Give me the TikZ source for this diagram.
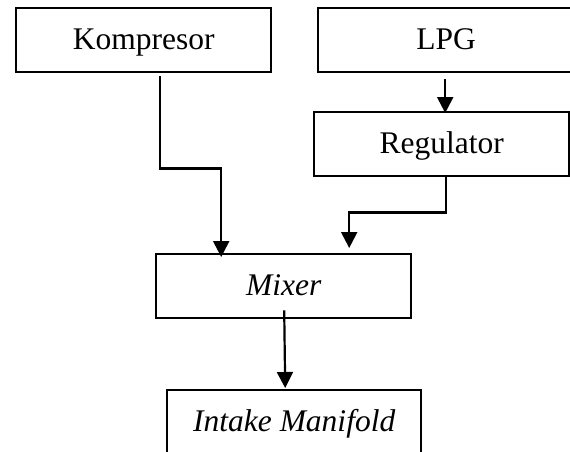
\documentclass[tikz,border=0pt]{standalone}
\usepackage{fontspec}
\setmainfont{Liberation Serif}
\usetikzlibrary{arrows.meta,calc}

\tikzset{
  blok/.style={draw, line width=2.4pt, inner sep=0pt, anchor=north west,
    minimum height=64pt, text height=20pt, text depth=2pt,
    font=\fontsize{31.5}{36}\selectfont},
  arr/.style={line width=2.2pt, -{Triangle[length=16pt,width=16pt]}}
}

\begin{document}
\begin{tikzpicture}[x=1pt, y=-1pt]
  \useasboundingbox (0,0) rectangle (570,451);
  \clip (0,0) rectangle (570,451);

  % blocks of the LPG supply path
  \node[blok, minimum width=255pt] (komp) at (15,7) {Kompresor};
  \node[blok, minimum width=256pt] (lpg) at (317,7) {LPG};
  \node[blok, minimum width=255pt] (reg) at (313,111) {Regulator};
  \node[blok, minimum width=255pt] (mix) at (155,253) {\itshape Mixer};
  \node[blok, minimum width=254pt] (intake) at (166,389) {\itshape Intake Manifold};

  % connectors
  \draw[arr] ([shift={(16.5,3)}]komp.south) -- ++(0,92)
             -| ([shift={(-62.5,4)}]mix.north);
  \draw[arr] ([shift={(-1,6)}]lpg.south) -- ([shift={(-1,2)}]lpg.south |- reg.north);
  \draw[arr] ([xshift=4.5pt]reg.south) -- ++(0,35)
             -| ([shift={(65.5,-5)}]mix.north);
  \draw[arr] ([shift={(0.5,-9)}]mix.south) -- ([shift={(-9,-1)}]intake.north);
\end{tikzpicture}
\end{document}
